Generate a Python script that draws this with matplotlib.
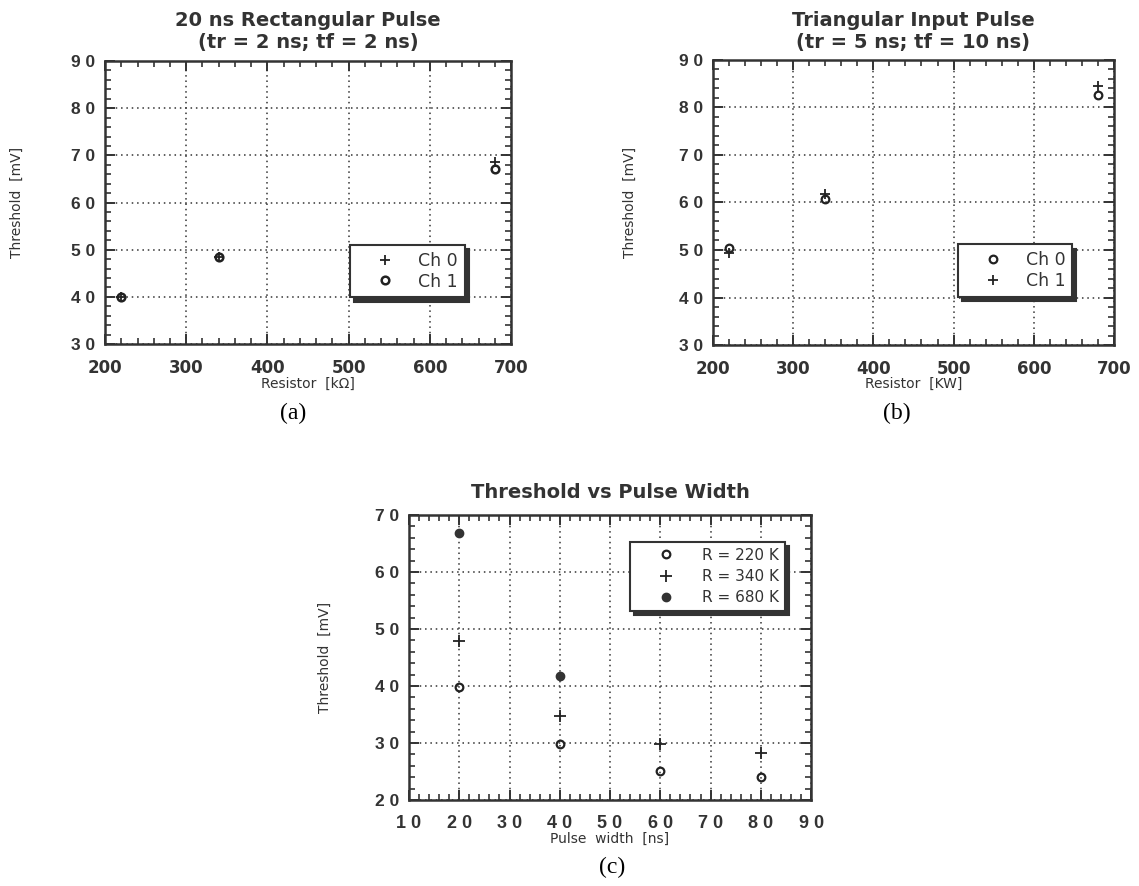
import matplotlib
matplotlib.use("Agg")
import matplotlib.pyplot as plt
from matplotlib.ticker import MultipleLocator, FixedLocator

plt.rcParams["font.family"] = ["Liberation Sans", "DejaVu Sans"]

# (a) 20 ns rectangular pulse
res_a = [220, 340, 680]
ch0_a = [40, 48.5, 68.7]
ch1_a = [40, 48.5, 67.1]

# (b) triangular input pulse
res_b = [220, 340, 680]
ch0_b = [50.5, 60.7, 82.6]
ch1_b = [49.4, 61.8, 84.5]

# (c) threshold vs pulse width
width_c = [20, 40, 60, 80]
r220_c = [39.8, 29.8, 25.0, 24.1]
r340_c = [47.8, 34.8, 29.9, 28.2]
width_680 = [20, 40]
r680_c = [66.8, 41.7]

res_ticks = [200, 300, 400, 500, 600, 700]
thr_ticks_ab = [30, 40, 50, 60, 70, 80, 90]
thr_ticks_c = [20, 30, 40, 50, 60, 70]
pw_ticks = [10, 20, 30, 40, 50, 60, 70, 80, 90]

INK = "#333333"


def spaced(v):
    # tick labels in the original are set with wide letter spacing
    return " ".join(str(v))


def style_axes(ax, xticks, yticks, xlabels, ylabels, xminor, yminor, xfont):
    ax.set_xlim(xticks[0], xticks[-1])
    ax.set_ylim(yticks[0], yticks[-1])
    ax.xaxis.set_major_locator(FixedLocator(xticks))
    ax.yaxis.set_major_locator(FixedLocator(yticks))
    ax.xaxis.set_minor_locator(MultipleLocator(xminor))
    ax.yaxis.set_minor_locator(MultipleLocator(yminor))
    ax.set_xticklabels(xlabels, color=INK, **xfont)
    ax.set_yticklabels(ylabels, fontsize=12.5, fontweight="bold", color=INK)
    ax.tick_params(which="both", direction="in", top=True, right=True, color=INK)
    ax.tick_params(which="major", length=7, width=1.4)
    ax.tick_params(which="minor", length=4, width=1.2)
    ax.tick_params(axis="x", which="major", pad=11)
    ax.tick_params(axis="y", which="major", pad=7)
    ax.grid(True, which="major", linestyle=(0, (1, 2.5)), color=INK, linewidth=1.1)
    for s in ax.spines.values():
        s.set_linewidth(1.8)
        s.set_color(INK)


def add_legend(ax, anchor, fontsize, handlelength, spacing):
    leg = ax.legend(loc="upper left", bbox_to_anchor=anchor, borderaxespad=0,
                    prop={"family": "DejaVu Sans", "size": fontsize},
                    frameon=True, fancybox=False,
                    shadow={"color": INK, "alpha": 1, "ox": 3, "oy": -3},
                    handlelength=handlelength, handletextpad=0.3,
                    borderpad=0.4, labelspacing=spacing)
    leg.get_frame().set_edgecolor(INK)
    leg.get_frame().set_linewidth(1.5)
    leg.get_frame().set_alpha(1)
    for t in leg.get_texts():
        t.set_color(INK)
    return leg


res_font = {"fontsize": 12, "fontweight": "bold", "family": "DejaVu Sans"}
pw_font = {"fontsize": 13, "fontweight": "bold"}
title_kw = {"fontsize": 14, "fontweight": "bold", "family": "DejaVu Sans", "color": INK,
            "ha": "center", "va": "center"}
label_kw = {"fontsize": 10, "family": "DejaVu Sans", "color": INK}

fig = plt.figure(figsize=(11.39, 8.86), dpi=100)

ax_a = fig.add_axes([0.0922, 0.6117, 0.3565, 0.3194])
ax_b = fig.add_axes([0.626, 0.6106, 0.352, 0.3217])
ax_c = fig.add_axes([0.3591, 0.0971, 0.353, 0.3217])

# panel (a)
style_axes(ax_a, res_ticks, thr_ticks_ab, [str(t) for t in res_ticks],
           [spaced(t) for t in thr_ticks_ab], 20, 2, res_font)
ax_a.plot(res_a, ch0_a, "+", color="#222222", markersize=7, mew=1.3, label="Ch 0", clip_on=False)
ax_a.plot(res_a, ch1_a, "o", color="#222222", mfc="none", markersize=5.5, mew=1.8, label="Ch 1", clip_on=False)
ax_a.text(0.5, 1.145, "20 ns Rectangular Pulse", transform=ax_a.transAxes, **title_kw)
ax_a.text(0.5, 1.064, "(tr = 2 ns; tf = 2 ns)", transform=ax_a.transAxes, **title_kw)
ax_a.set_xlabel("Resistor  [k\u03a9]", **label_kw)
ax_a.set_ylabel("Threshold  [mV]", **label_kw)
ax_a.xaxis.set_label_coords(0.5, -0.117)
ax_a.yaxis.set_label_coords(-0.20, 0.5)
add_legend(ax_a, (0.604, 0.35), 12.5, 3.2, 0.15)
fig.text(293 / 1139, 1 - 413 / 886, "(a)", fontsize=17, family="Liberation Serif",
         ha="center", va="center")

# panel (b)
style_axes(ax_b, res_ticks, thr_ticks_ab, [str(t) for t in res_ticks],
           [spaced(t) for t in thr_ticks_ab], 20, 2, res_font)
ax_b.plot(res_b, ch0_b, "o", color="#222222", mfc="none", markersize=5.5, mew=1.6, label="Ch 0", clip_on=False)
ax_b.plot(res_b, ch1_b, "+", color="#222222", markersize=7, mew=1.3, label="Ch 1", clip_on=False)
ax_b.text(0.5, 1.140, "Triangular Input Pulse", transform=ax_b.transAxes, **title_kw)
ax_b.text(0.5, 1.060, "(tr = 5 ns; tf = 10 ns)", transform=ax_b.transAxes, **title_kw)
ax_b.set_xlabel("Resistor  [KW]", **label_kw)
ax_b.set_ylabel("Threshold  [mV]", **label_kw)
ax_b.xaxis.set_label_coords(0.5, -0.112)
ax_b.yaxis.set_label_coords(-0.19, 0.5)
add_legend(ax_b, (0.611, 0.353), 12.5, 3.2, 0.15)
fig.text(897 / 1139, 1 - 413 / 886, "(b)", fontsize=17, family="Liberation Serif",
         ha="center", va="center")

# panel (c)
style_axes(ax_c, pw_ticks, thr_ticks_c, [spaced(t) for t in pw_ticks],
           [spaced(t) for t in thr_ticks_c], 2, 2, pw_font)
ax_c.plot(width_c, r220_c, "o", color="#222222", mfc="none", markersize=5.5, mew=1.6,
          label="R = 220 K", clip_on=False)
ax_c.plot(width_c, r340_c, "+", color="#222222", markersize=8, mew=1.3,
          label="R = 340 K", clip_on=False)
ax_c.plot(width_680, r680_c, "o", color=INK, markersize=6, label="R = 680 K", clip_on=False)
ax_c.text(0.5, 1.077, "Threshold vs Pulse Width", transform=ax_c.transAxes, **title_kw)
ax_c.set_xlabel("Pulse  width  [ns]", **label_kw)
ax_c.set_ylabel("Threshold  [mV]", **label_kw)
ax_c.xaxis.set_label_coords(0.5, -0.112)
ax_c.yaxis.set_label_coords(-0.191, 0.5)
add_legend(ax_c, (0.549, 0.906), 11, 4.0, 0.4)
fig.text(612 / 1139, 1 - 867 / 886, "(c)", fontsize=17, family="Liberation Serif",
         ha="center", va="center")

fig.savefig("out.png", dpi=100)
